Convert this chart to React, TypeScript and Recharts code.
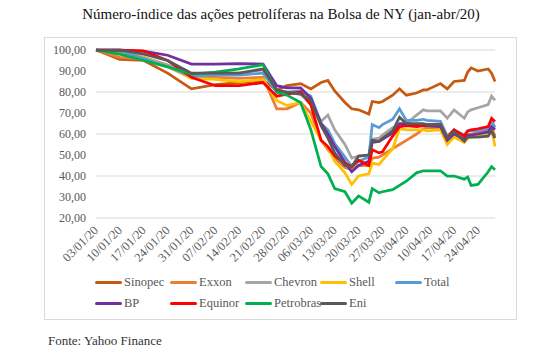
import { LineChart, Line, XAxis, YAxis, CartesianGrid } from 'recharts';

// trading dates (dd/mm, 2020)
const dates = [
    '03/01', '10/01', '17/01', '24/01', '31/01', '07/02', '14/02', '21/02', '25/02', '28/02',
    '03/03', '06/03', '09/03', '11/03', '13/03', '16/03', '18/03', '20/03', '23/03', '24/03',
    '26/03', '27/03', '30/03', '01/04', '03/04', '06/04', '08/04', '09/04', '13/04', '15/04',
    '17/04', '20/04', '21/04', '22/04', '24/04', '27/04', '28/04', '29/04',
];

const sinopec = [100, 95.5, 95, 89, 81.5, 83.5, 84.5, 85.5, 81, 83, 84, 81.5, 84.5, 85.5, 80.5, 75, 72, 71.5, 69.5, 75.5, 75, 75.5, 78.5, 81.5, 78.5, 79.5, 81, 81, 84, 81.5, 85, 85.5, 89.5, 91.5, 90, 91, 89, 85];
const exxon = [100, 96.5, 95.5, 92, 87.5, 87, 86.5, 87, 72, 72, 75, 70, 57, 52.5, 48.5, 44, 43, 45, 45, 48.5, 49, 50, 53, 55, 57, 60, 62.5, 63, 63, 57, 60.5, 57.5, 59.5, 60, 60.5, 61.5, 63, 59];
const chevron = [100, 99, 96.5, 93, 88.5, 89, 89, 90.5, 81, 79.5, 79, 74, 66, 69, 62, 55, 48.5, 49.5, 50, 57.5, 58, 59.5, 63, 63, 65, 69, 71.5, 71, 71, 67.5, 71.5, 67.5, 70.5, 71.5, 72.5, 74, 78, 76];
const shell = [100, 99, 96.5, 92, 86.5, 86, 85, 86, 76, 73.5, 75, 66, 57, 53.5, 47, 41.5, 36, 40, 41, 46, 45.5, 47.5, 53, 62.5, 62, 62, 62, 61.5, 62, 55, 58.5, 56, 58, 58.5, 59, 60, 62, 54];
const total = [100, 99.5, 96, 92, 87.5, 88, 88, 89, 80, 80, 80.5, 78, 65, 62, 55.5, 49, 44.5, 47, 49, 64.5, 63, 64.5, 67, 72, 66.5, 66.5, 67, 66.5, 66, 59, 62, 59.5, 61.5, 61.5, 61.5, 62.5, 66.5, 63];
const bp = [100, 100, 99.5, 97.5, 93.3, 93.3, 93.5, 93.3, 83, 82, 82, 77, 65, 60, 54, 46.5, 42, 45, 47, 56, 56.5, 57.5, 60.5, 65, 65, 64.5, 64, 64, 63.5, 57, 60, 57.5, 59.5, 59.5, 60, 61, 63.5, 62];
const equinor = [100, 100, 99.5, 95, 87, 83, 83, 84.5, 78, 79, 80, 74, 57, 54, 49.5, 46, 44.5, 47.5, 45, 52.5, 51, 51.5, 59, 63.5, 64, 63.5, 64, 64.5, 64.5, 58, 62, 59, 61.5, 62, 62.5, 63.5, 67.5, 66];
const petrobras = [100, 98, 95, 92, 88.5, 89.5, 91, 93, 80, 78.5, 75, 62, 44.5, 41, 34, 32.5, 27, 30.5, 27.5, 34, 32, 32.5, 33.5, 35.5, 37.5, 41.5, 42.5, 42.5, 42.5, 40, 40, 38.5, 39.5, 35.5, 36, 42, 44.5, 43];
const eni = [100, 100, 98, 95, 89, 89, 89, 91, 81, 80, 79, 76, 64, 58, 51, 45, 44.5, 49.5, 50, 57, 56.5, 58, 61.5, 68, 65, 65, 65, 64.5, 64.5, 58, 61, 56.5, 58.5, 58.5, 58.5, 59, 61.5, 58];

const tickLabels = [
    '03/01/20', '10/01/20', '17/01/20', '24/01/20', '31/01/20', '07/02/20', '14/02/20', '21/02/20',
    '28/02/20', '06/03/20', '13/03/20', '20/03/20', '27/03/20', '03/04/20', '10/04/20', '17/04/20', '24/04/20',
];

const series = [
    { key: 'Sinopec', values: sinopec, color: '#C55A11' },
    { key: 'Exxon', values: exxon, color: '#ED7D31' },
    { key: 'Chevron', values: chevron, color: '#A5A5A5' },
    { key: 'Shell', values: shell, color: '#FFC000' },
    { key: 'Total', values: total, color: '#5B9BD5' },
    { key: 'BP', values: bp, color: '#7030A0' },
    { key: 'Equinor', values: equinor, color: '#FF0000' },
    { key: 'Petrobras', values: petrobras, color: '#00B050' },
    { key: 'Eni', values: eni, color: '#595959' },
];

const FONT = '"Liberation Serif", "DejaVu Serif", serif';
const MONTH_START = [0, 31, 60, 91, 121];

// days since 03/01/2020
const dayOf = (d: string) => {
    const [dd, mm] = d.split('/').map(Number);
    return MONTH_START[mm - 1] + dd - 3;
};

const data = dates.map((d, i) => {
    const row: { [key: string]: any } = { day: dayOf(d) };
    series.forEach((s) => (row[s.key] = s.values[i]));
    return row;
});

const fmt = (v: number) => v.toFixed(2).replace('.', ',');

function DateTick({ x, y, payload }: any) {
    const label = tickLabels[Math.round(payload.value / 7)];
    return (
        <g transform={`translate(${x + 3},${y + 5})`}>
            <text transform="rotate(-45)" textAnchor="end" fill="#595959" fontSize={12.5} fontFamily={FONT}>
                {label}
            </text>
        </g>
    );
}

function LegendBlock() {
    return (
        <>
            {series.map((s, i) => {
                const col = i < 5 ? i : i - 5;
                const row = i < 5 ? 0 : 1;
                return (
                    <div
                        key={s.key}
                        style={{
                            position: 'absolute',
                            left: 95 + col * 75,
                            top: 274 + row * 21,
                            height: 16,
                            display: 'flex',
                            alignItems: 'center',
                            fontFamily: FONT,
                            fontSize: 12.5,
                            color: '#595959',
                            whiteSpace: 'nowrap',
                        }}
                    >
                        <span style={{ width: 27, height: 3, borderRadius: 2, background: s.color, marginRight: 2 }} />
                        {s.key}
                    </div>
                );
            })}
        </>
    );
}

export default function App() {
    return (
        <div style={{ position: 'absolute', left: 0, top: 0, width: 554, height: 356, background: '#fff' }}>
            <div
                style={{
                    position: 'absolute',
                    left: 0,
                    top: 6,
                    width: 562,
                    textAlign: 'center',
                    fontFamily: FONT,
                    fontSize: 15,
                    color: '#111',
                }}
            >
                Número-índice das ações petrolíferas na Bolsa de NY (jan-abr/20)
            </div>
            <div
                style={{
                    position: 'absolute',
                    left: 44,
                    top: 37,
                    width: 471,
                    height: 281,
                    border: '1px solid #d9d9d9',
                }}
            />
            <div style={{ position: 'absolute', left: 0, top: 0 }}>
                <LineChart width={554} height={280} data={data} margin={{ top: 50, right: 59, left: 0, bottom: 0 }}>
                    <CartesianGrid vertical={false} stroke="#d9d9d9" strokeWidth={1} />
                    <XAxis
                        dataKey="day"
                        type="number"
                        domain={[0, 117]}
                        ticks={tickLabels.map((_, i) => i * 7)}
                        interval={0}
                        axisLine={false}
                        tickLine={false}
                        height={62}
                        tick={<DateTick />}
                    />
                    <YAxis
                        domain={[20, 100]}
                        ticks={[20, 30, 40, 50, 60, 70, 80, 90, 100]}
                        axisLine={false}
                        tickLine={false}
                        tickMargin={4}
                        width={96}
                        tickFormatter={fmt}
                        tick={{ fill: '#595959', fontSize: 12, fontFamily: FONT }}
                    />
                    {series.map((s) => (
                        <Line
                            key={s.key}
                            dataKey={s.key}
                            stroke={s.color}
                            strokeWidth={2.75}
                            dot={false}
                            type="linear"
                            isAnimationActive={false}
                        />
                    ))}
                </LineChart>
            </div>
            <LegendBlock />
            <div
                style={{
                    position: 'absolute',
                    left: 48,
                    top: 333,
                    fontFamily: FONT,
                    fontSize: 13,
                    color: '#333',
                }}
            >
                Fonte: Yahoo Finance
            </div>
        </div>
    );
}
